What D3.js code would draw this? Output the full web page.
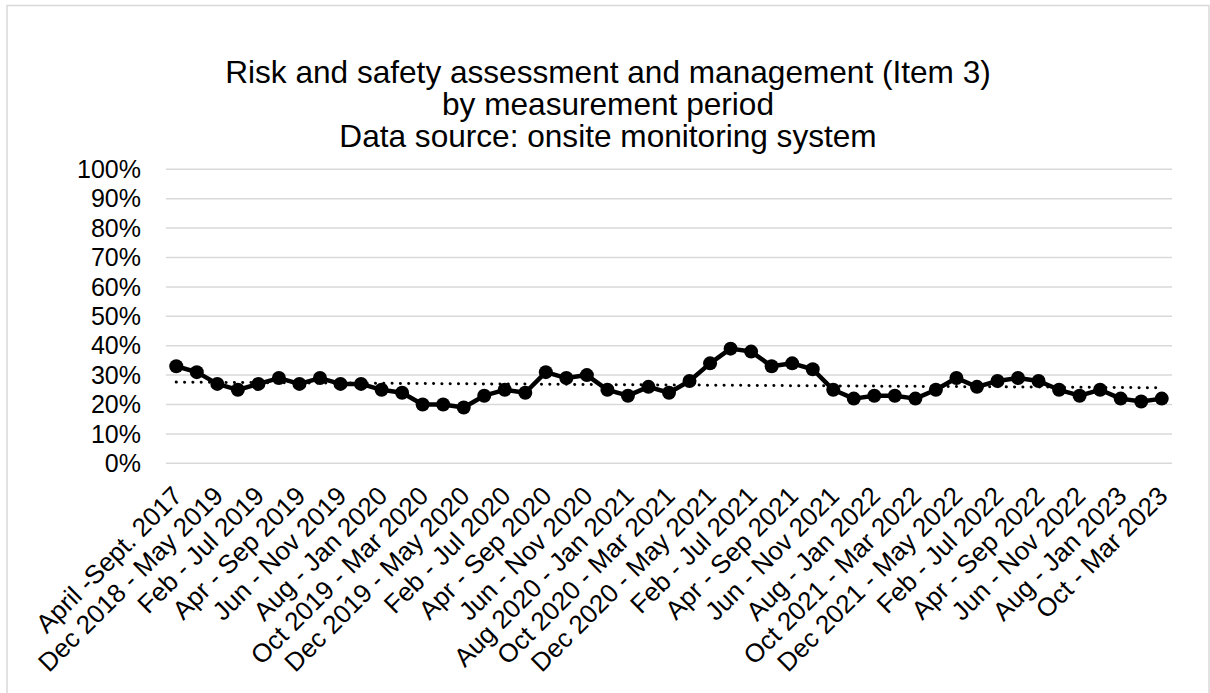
<!DOCTYPE html>
<html><head><meta charset="utf-8">
<script src="https://cdn.jsdelivr.net/npm/d3@7"></script>
<style>html,body{margin:0;padding:0;background:#fff;}svg{display:block;font-family:"Liberation Sans",Arial,sans-serif;}</style>
</head><body>
<svg id="c" width="1210" height="693"></svg>
<script>
const titleLines = ["Risk and safety assessment and management (Item 3)", "by measurement period", "Data source: onsite monitoring system"];
const categories = [
 "April -Sept. 2017","Nov 2018 - Apr 2019","Dec 2018 - May 2019","Jan - Jun 2019","Feb - Jul 2019","Mar - Aug 2019",
 "Apr - Sep 2019","May - Oct 2019","Jun - Nov 2019","Jul - Dec 2019","Aug - Jan 2020","Sep 2019 - Feb 2020",
 "Oct 2019 - Mar 2020","Nov 2019 - Apr 2020","Dec 2019 - May 2020","Jan - Jun 2020","Feb - Jul 2020","Mar - Aug 2020",
 "Apr - Sep 2020","May - Oct 2020","Jun - Nov 2020","Jul - Dec 2020","Aug 2020 - Jan 2021","Sep 2020 - Feb 2021",
 "Oct 2020 - Mar 2021","Nov 2020 - Apr 2021","Dec 2020 - May 2021","Jan - Jun 2021","Feb - Jul 2021","Mar - Aug 2021",
 "Apr - Sep 2021","May - Oct 2021","Jun - Nov 2021","Jul - Dec 2021","Aug - Jan 2022","Sep 2021 - Feb 2022",
 "Oct 2021 - Mar 2022","Nov 2021 - Apr 2022","Dec 2021 - May 2022","Jan - Jun 2022","Feb - Jul 2022","Mar - Aug 2022",
 "Apr - Sep 2022","May - Oct 2022","Jun - Nov 2022","Jul - Dec 2022","Aug - Jan 2023","Sep 2022 - Feb 2023",
 "Oct - Mar 2023"];
const values = [33,31,27,25,27,29,27,29,27,27,25,24,20,20,19,23,25,24,31,29,30,25,23,26,24,28,34,39,38,33,34,32,25,22,23,23,22,25,29,26,28,29,28,25,23,25,22,21,22];
const yTicks = [0,10,20,30,40,50,60,70,80,90,100];

const svg = d3.select("#c");
// chart border
svg.append("rect").attr("x",7).attr("y",5.5).attr("width",1202).attr("height",700)
  .attr("fill","#fff").attr("stroke","#d9d9d9").attr("stroke-width",1.5);

const x = d3.scaleBand().domain(categories).range([166,1172]);
const y = d3.scaleLinear().domain([0,100]).range([463.3,169.3]);
const cx = d => x(d) + x.bandwidth()/2;

// title
svg.append("g").selectAll("text").data(titleLines).join("text")
  .attr("x",608).attr("y",(d,i)=>83+i*32).attr("text-anchor","middle")
  .attr("font-size",31.6).attr("fill","#000").text(d=>d);

// gridlines
svg.append("g").selectAll("line").data(yTicks).join("line")
  .attr("x1",166).attr("x2",1172).attr("y1",d=>y(d)).attr("y2",d=>y(d))
  .attr("stroke","#d9d9d9").attr("stroke-width",1.5);

// y labels
svg.append("g").selectAll("text").data(yTicks).join("text")
  .attr("x",141).attr("y",d=>y(d)).attr("dy","0.35em").attr("text-anchor","end")
  .attr("font-size",25).attr("fill","#000").text(d=>d+"%");

// x labels (every other)
svg.append("g").selectAll("text").data(categories.filter((d,i)=>i%2===0)).join("text")
  .attr("text-anchor","end").attr("font-size",26).attr("fill","#000")
  .attr("transform",d=>`translate(${cx(d)+1},${491}) rotate(-45)`)
  .attr("dy","0.35em").text(d=>d);

// line
const line = d3.line().x((d,i)=>cx(categories[i])).y(d=>y(d));
svg.append("path").datum(values).attr("d",line).attr("fill","none")
  .attr("stroke","#000").attr("stroke-width",4.5).attr("stroke-linejoin","round");

// linear trendline (least squares over index)
const n = values.length;
const mx = d3.mean(values,(d,i)=>i), my = d3.mean(values);
const slope = d3.sum(values,(d,i)=>(i-mx)*(d-my))/d3.sum(values,(d,i)=>(i-mx)*(i-mx));
const icpt = my - slope*mx;
svg.append("line")
  .attr("x1",cx(categories[0])).attr("x2",cx(categories[n-1]))
  .attr("y1",y(icpt)).attr("y2",y(icpt+slope*(n-1)))
  .attr("stroke","#000").attr("stroke-width",3).attr("stroke-linecap","round")
  .attr("stroke-dasharray","0.1 8.2");

// markers
svg.append("g").selectAll("circle").data(values).join("circle")
  .attr("cx",(d,i)=>cx(categories[i])).attr("cy",d=>y(d)).attr("r",7).attr("fill","#000");
</script>
</body></html>
